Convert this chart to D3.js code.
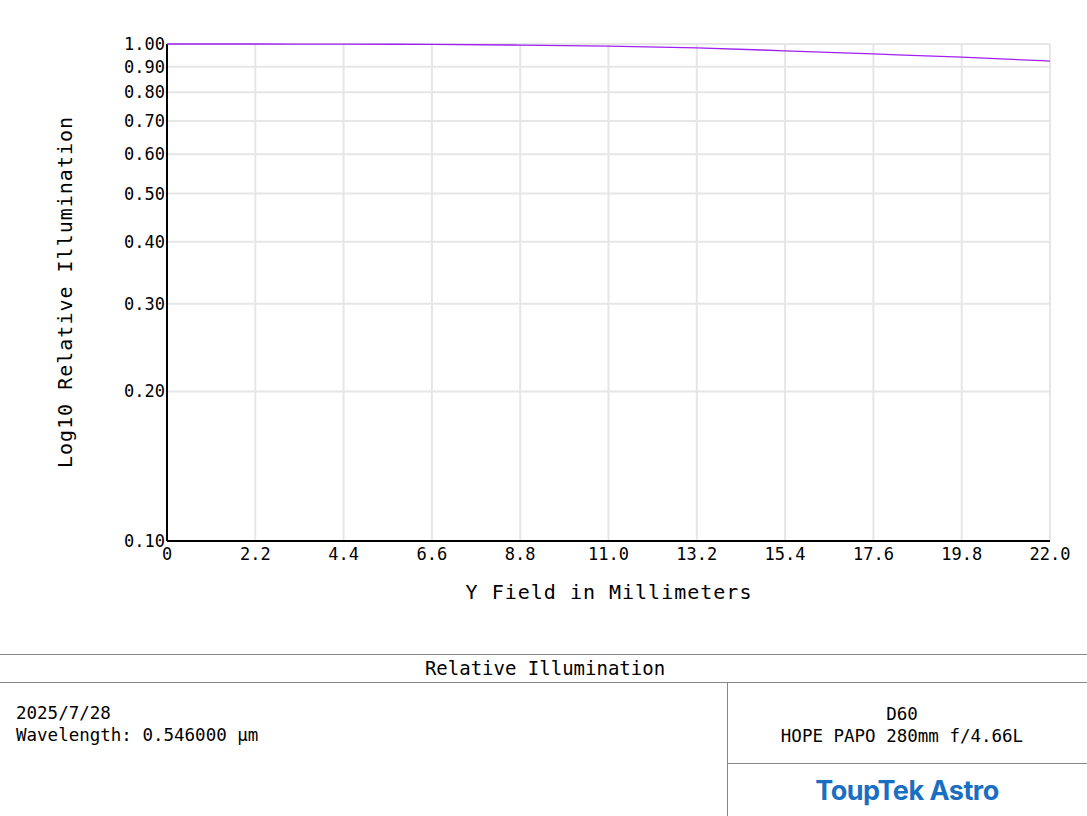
<!DOCTYPE html>
<html><head><meta charset="utf-8">
<script src="https://cdn.jsdelivr.net/npm/d3@7"></script>
<style>body{margin:0;background:#fff}text{font-family:"DejaVu Sans Mono",monospace}</style>
</head><body><svg id="chart"></svg>
<script>
const fieldMm = [0, 2.2, 4.4, 6.6, 8.8, 11.0, 13.2, 15.4, 17.6, 19.8, 22.0];
const relIllum = [1.0, 1.0, 0.9995, 0.998, 0.995, 0.99, 0.982, 0.969, 0.955, 0.941, 0.924];
const xTicks = [0, 2.2, 4.4, 6.6, 8.8, 11.0, 13.2, 15.4, 17.6, 19.8, 22.0];
const yTicks = [0.1, 0.2, 0.3, 0.4, 0.5, 0.6, 0.7, 0.8, 0.9, 1.0];

const width = 1087, height = 816;
const svg = d3.select('#chart').attr('width', width).attr('height', height);
const x = d3.scaleLinear().domain([0, 22]).range([167, 1050]);
const y = d3.scaleLog().domain([0.1, 1]).range([541, 44]);

const g = svg.append('g');
g.selectAll('.vg').data(xTicks.slice(1)).enter().append('line')
  .attr('x1', d => x(d)).attr('x2', d => x(d)).attr('y1', 44).attr('y2', 541)
  .attr('stroke', '#e6e6e6').attr('stroke-width', 2);
g.selectAll('.hg').data(yTicks.slice(1)).enter().append('line')
  .attr('x1', 167).attr('x2', 1050).attr('y1', d => y(d)).attr('y2', d => y(d))
  .attr('stroke', '#e6e6e6').attr('stroke-width', 2);

// axes
g.append('line').attr('x1', 167).attr('x2', 167).attr('y1', 44).attr('y2', 541).attr('stroke', '#000').attr('stroke-width', 2);
g.append('line').attr('x1', 167).attr('x2', 1050).attr('y1', 541).attr('y2', 541).attr('stroke', '#000').attr('stroke-width', 2);

g.selectAll('.xt').data(xTicks).enter().append('text')
  .attr('x', d => x(d)).attr('y', 560).attr('text-anchor', 'middle').attr('font-size', 17)
  .text(d => d === 0 ? '0' : d.toFixed(1));
g.selectAll('.yt').data(yTicks).enter().append('text')
  .attr('x', 165).attr('y', d => y(d) + 6).attr('text-anchor', 'end').attr('font-size', 17)
  .text(d => d.toFixed(2));

g.append('path').datum(fieldMm.map((f, i) => [f, relIllum[i]]))
  .attr('d', d3.line().x(d => x(d[0])).y(d => y(d[1])).curve(d3.curveMonotoneX))
  .attr('fill', 'none').attr('stroke', '#a020f0').attr('stroke-width', 1.3);

svg.append('text').attr('x', 609).attr('y', 599).attr('text-anchor', 'middle').attr('font-size', 20)
  .attr('letter-spacing', 1).text('Y Field in Millimeters');
svg.append('text').attr('transform', 'translate(72,292) rotate(-90)').attr('text-anchor', 'middle')
  .attr('font-size', 20).attr('letter-spacing', 1).text('Log10 Relative Illumination');

// footer
const f = svg.append('g').attr('stroke', '#888').attr('stroke-width', 1);
f.append('line').attr('x1', 0).attr('x2', width).attr('y1', 654.5).attr('y2', 654.5);
f.append('line').attr('x1', 0).attr('x2', width).attr('y1', 682.5).attr('y2', 682.5);
f.append('line').attr('x1', 727.5).attr('x2', 727.5).attr('y1', 682).attr('y2', height);
f.append('line').attr('x1', 727).attr('x2', width).attr('y1', 763.5).attr('y2', 763.5);
svg.append('text').attr('x', 545).attr('y', 675).attr('text-anchor', 'middle').attr('font-size', 19).text('Relative Illumination');
svg.append('text').attr('x', 16).attr('y', 719).attr('font-size', 17.5).text('2025/7/28');
svg.append('text').attr('x', 16).attr('y', 741).attr('font-size', 17.5).text('Wavelength: 0.546000 µm');
svg.append('text').attr('x', 902).attr('y', 720).attr('text-anchor', 'middle').attr('font-size', 17.5).text('D60');
svg.append('text').attr('x', 902).attr('y', 742).attr('text-anchor', 'middle').attr('font-size', 17.5).text('HOPE PAPO 280mm f/4.66L');
svg.append('text').attr('x', 907).attr('y', 800).attr('text-anchor', 'middle')
  .attr('font-size', 27).attr('font-weight', 'bold').attr('fill', '#1a6fc2')
  .style('font-family', 'Inter, "Noto Sans", sans-serif').attr('letter-spacing', -0.5).text('ToupTek Astro');
</script></body></html>
